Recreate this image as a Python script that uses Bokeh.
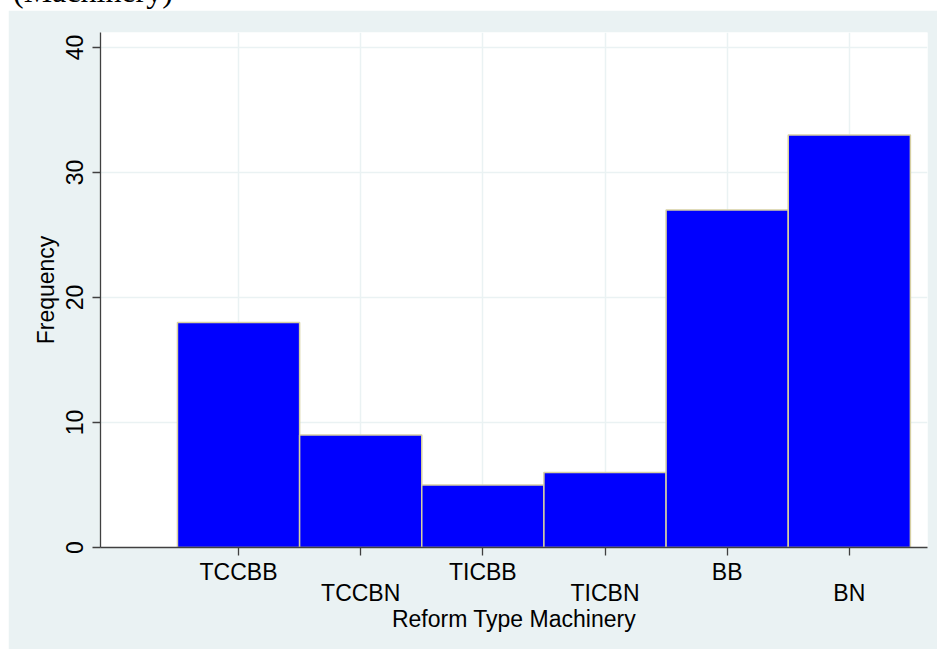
from bokeh.plotting import figure
from bokeh.models import FixedTicker, LinearAxis, Range1d, Div, ColumnDataSource
from bokeh.layouts import column
from bokeh.embed import file_html
from bokeh.resources import INLINE

categories = ["TCCBB", "TCCBN", "TICBB", "TICBN", "BB", "BN"]
frequency = [18, 9, 5, 6, 27, 33]
y_ticks = [0, 10, 20, 30, 40]
positions = list(range(1, len(categories) + 1))

BG = "#EAF2F3"
FONT = "Liberation Sans"
FS = "23px"

src = ColumnDataSource(dict(x=positions, top=frequency, cat=categories))

p = figure(width=929, height=639, output_backend="svg", toolbar_location=None,
           x_range=Range1d(-0.13, 6.64), y_range=Range1d(0, 41.2),
           background_fill_color="white", border_fill_color=BG,
           min_border_left=92, min_border_right=10, min_border_top=22,
           min_border_bottom=102)
p.outline_line_color = None

p.vbar(x="x", top="top", bottom=0, width=1, source=src,
       fill_color="#0000FF", line_color="#D6CFA2", line_width=1.5)

# grids
p.xgrid.ticker = FixedTicker(ticks=positions)
p.ygrid.ticker = FixedTicker(ticks=y_ticks)
for g in (p.xgrid, p.ygrid):
    g.grid_line_color = BG
    g.grid_line_width = 1.5

# x axis (row 1 labels)
xa = p.xaxis[0]
xa.ticker = FixedTicker(ticks=positions)
xa.major_label_overrides = {pos: (cat if i % 2 == 0 else "") for i, (pos, cat) in enumerate(zip(positions, categories))}
xa.axis_line_color = "#404040"
xa.axis_line_width = 1.3
xa.major_tick_line_color = "#404040"
xa.major_tick_line_width = 1.3
xa.major_tick_out = 8
xa.major_tick_in = 0
xa.minor_tick_line_color = None
xa.major_label_standoff = 3
xa.major_label_text_font = FONT
xa.major_label_text_font_size = FS
xa.major_label_text_color = "black"

# x axis (row 2 labels + title)
xa2 = LinearAxis(ticker=FixedTicker(ticks=positions),
                 major_label_overrides={pos: (cat if i % 2 == 1 else "") for i, (pos, cat) in enumerate(zip(positions, categories))},
                 axis_line_color=None, major_tick_line_color=None,
                 minor_tick_line_color=None, major_tick_out=0, major_tick_in=0,
                 major_label_standoff=-8,
                 major_label_text_font=FONT, major_label_text_font_size=FS,
                 major_label_text_color="black",
                 axis_label="Reform Type Machinery", axis_label_standoff=-3,
                 axis_label_text_font=FONT, axis_label_text_font_size=FS,
                 axis_label_text_font_style="normal", axis_label_text_color="black")
p.add_layout(xa2, "below")

# y axis
ya = p.yaxis[0]
ya.ticker = FixedTicker(ticks=y_ticks)
ya.major_label_orientation = "vertical"
ya.axis_line_color = "#404040"
ya.axis_line_width = 1.3
ya.major_tick_line_color = "#404040"
ya.major_tick_line_width = 1.3
ya.major_tick_out = 8
ya.major_tick_in = 0
ya.minor_tick_line_color = None
ya.major_label_standoff = 10
ya.major_label_text_font = FONT
ya.major_label_text_font_size = FS
ya.major_label_text_color = "black"
ya.axis_label = "Frequency"
ya.axis_label_standoff = 4
ya.axis_label_text_font = FONT
ya.axis_label_text_font_size = FS
ya.axis_label_text_font_style = "normal"
ya.axis_label_text_color = "black"

head = Div(text="(Machinery)", width=300, height=0,
           styles={"position": "relative", "top": "-30px",
                   "font-family": "Liberation Serif", "font-size": "32px",
                   "line-height": "1", "white-space": "nowrap",
                   "overflow": "visible", "color": "black"})

layout = column(head, p, spacing=0, styles={"margin-left": "8px"})

open("out.html", "w").write(file_html(layout, INLINE))
